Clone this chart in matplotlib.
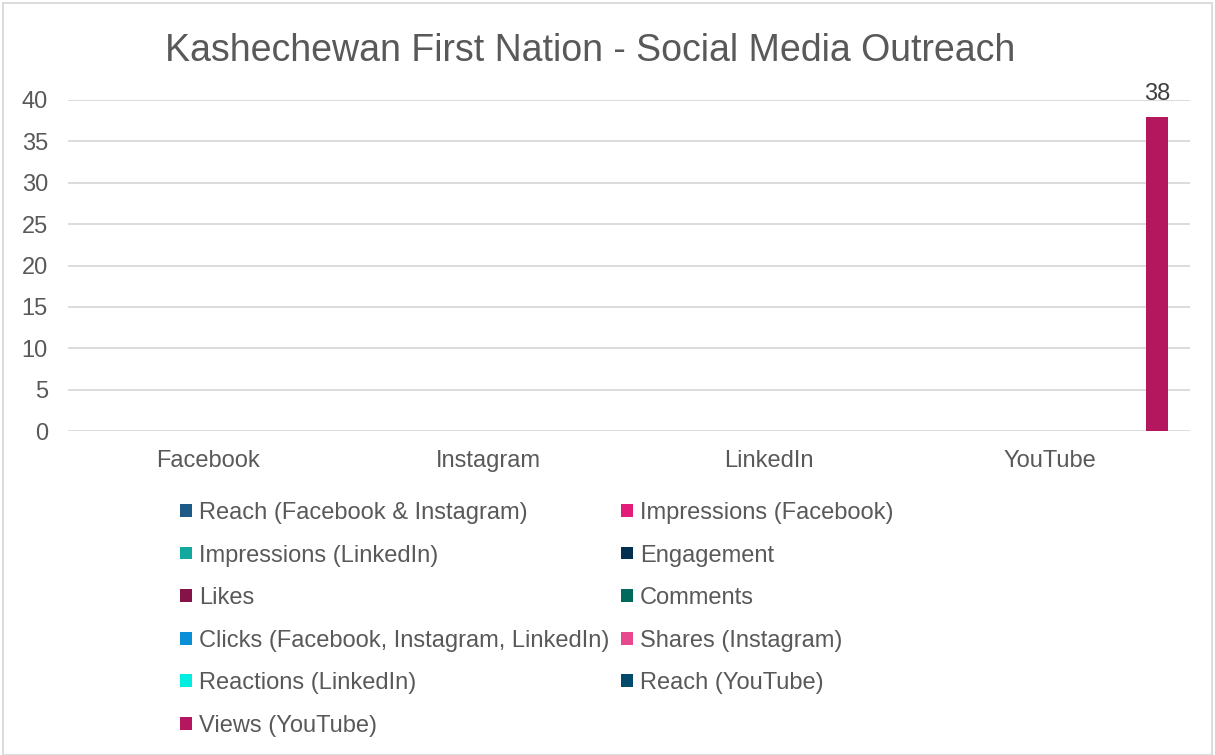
import matplotlib
matplotlib.use('Agg')
import matplotlib.pyplot as plt
from matplotlib.patches import Rectangle
import numpy as np

plt.rcParams['font.family'] = ['Liberation Sans', 'DejaVu Sans']

platforms = ["Facebook", "Instagram", "LinkedIn", "YouTube"]
series = [
    "Reach (Facebook & Instagram)",
    "Impressions (Facebook)",
    "Impressions (LinkedIn)",
    "Engagement",
    "Likes",
    "Comments",
    "Clicks (Facebook, Instagram, LinkedIn)",
    "Shares (Instagram)",
    "Reactions (LinkedIn)",
    "Reach (YouTube)",
    "Views (YouTube)",
]
# one row per series, one value per platform
values = [
    [0, 0, 0, 0],
    [0, 0, 0, 0],
    [0, 0, 0, 0],
    [0, 0, 0, 0],
    [0, 0, 0, 0],
    [0, 0, 0, 0],
    [0, 0, 0, 0],
    [0, 0, 0, 0],
    [0, 0, 0, 0],
    [0, 0, 0, 0],
    [0, 0, 0, 38],
]
colors = ["#1d5a87", "#e31c79", "#12a89d", "#033050", "#841448", "#00695e",
          "#0a8fd6", "#e8488e", "#00eedf", "#024a6c", "#b5175f"]

text_col = "#595959"
fs = 17

fig = plt.figure(figsize=(12.15, 7.55), dpi=100)
ax = fig.add_axes([68/1215, 324/755, 1122/1215, 331/755])

x = np.arange(len(platforms))
w = 0.0765
handles = []
for i, (name, vals) in enumerate(zip(series, values)):
    bars = ax.bar(x + (i - 5) * w, vals, w, color=colors[i], label=name, linewidth=0)
    handles.append(bars)
    labels = [str(v) if v else "" for v in vals]
    ax.bar_label(bars, labels=labels, padding=8, fontsize=fs, color="#404040")

ax.set_xlim(-0.5, 3.5)
ax.set_ylim(0, 40)
ax.set_yticks(range(0, 41, 5))
ax.set_xticks(x)
ax.set_xticklabels(platforms)
ax.tick_params(axis='both', length=0, labelsize=fs, labelcolor=text_col)
ax.tick_params(axis='x', pad=14)
ax.tick_params(axis='y', pad=14.5)
ax.grid(axis='y', color="#d9d9d9", linewidth=1.3)
ax.set_axisbelow(True)
for s in ax.spines.values():
    s.set_visible(False)

fig.text(590/1215, 1 - 51/755, "Kashechewan First Nation - Social Media Outreach",
         ha='center', va='center', fontsize=27, color=text_col)

order = [0, 2, 4, 6, 8, 10, 1, 3, 5, 7, 9]
leg = fig.legend([handles[k] for k in order], [series[k] for k in order],
                 ncol=2, loc='upper left', bbox_to_anchor=(180/1215, 1 - 502/755),
                 frameon=False, fontsize=fs, handlelength=0.5, handleheight=0.45,
                 handletextpad=0.3, columnspacing=0.5, labelspacing=0.87,
                 borderaxespad=0, borderpad=0)
for t in leg.get_texts():
    t.set_color(text_col)

fig.patches.append(Rectangle((3/1215, 0), 1 - 6/1215, 1 - 3/755, transform=fig.transFigure,
                             fill=False, edgecolor="#d9d9d9", linewidth=1.3))

fig.savefig("out.png", dpi=100)
